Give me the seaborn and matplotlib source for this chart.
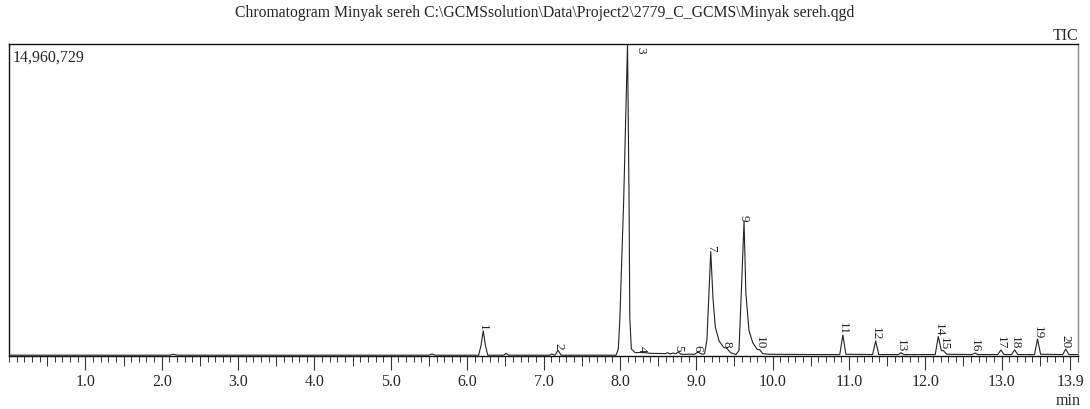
import numpy as np
import pandas as pd
import matplotlib as mpl
mpl.use('Agg')
import matplotlib.pyplot as plt
from matplotlib.ticker import MultipleLocator, FixedLocator, NullFormatter
import seaborn as sns

# DADOS DO CROMATOGRAMA
escala_total = 14960729  # intensidade do pico mais alto (TIC)

# tracado do sinal: tempo (min) e intensidade relativa (% da escala)
tempo = [0.00, 2.10, 2.15, 2.20, 5.50, 5.54, 5.58, 6.15, 6.18, 6.21, 6.24, 6.27,
         6.48, 6.51, 6.54, 7.08, 7.11, 7.14, 7.15, 7.19, 7.23,
         7.95, 7.98, 8.00, 8.05, 8.10, 8.12, 8.13, 8.15, 8.20, 8.29, 8.40,
         8.60, 8.62, 8.66, 8.70, 8.73, 8.76, 8.80, 8.98, 9.02, 9.08,
         9.11, 9.14, 9.17, 9.19, 9.22, 9.25, 9.30, 9.36, 9.40, 9.45, 9.52,
         9.56, 9.59, 9.626, 9.65, 9.69, 9.74, 9.80, 9.83, 9.87, 9.95,
         10.50, 10.88, 10.92, 10.96, 11.31, 11.35, 11.39, 11.65, 11.68, 11.72,
         12.13, 12.17, 12.21, 12.24, 12.28, 12.61, 12.65, 12.69,
         12.95, 12.99, 13.03, 13.13, 13.17, 13.21, 13.43, 13.47, 13.51,
         13.80, 13.84, 13.88, 14.00]
intensidade = [0.0, 0.0, 0.3, 0.0, 0.0, 0.4, 0.0, 0.0, 3.0, 7.8, 3.0, 0.0,
               0.0, 0.6, 0.0, 0.0, 0.4, 0.0, 0.0, 1.6, 0.0,
               0.0, 2.0, 12.0, 50.0, 100.0, 50.0, 12.0, 2.0, 0.8, 0.9, 0.6,
               0.5, 0.8, 0.4, 0.7, 0.4, 1.0, 0.3, 0.3, 1.0, 0.3,
               0.5, 5.0, 22.0, 33.3, 18.0, 9.0, 4.5, 2.5, 2.2, 0.8, 0.2,
               1.5, 20.0, 43.0, 20.0, 8.0, 4.0, 1.8, 1.8, 0.5, 0.3,
               0.2, 0.2, 6.5, 0.3, 0.2, 4.6, 0.2, 0.2, 0.8, 0.2,
               0.2, 6.0, 1.5, 1.4, 0.3, 0.2, 0.7, 0.2,
               0.2, 1.7, 0.2, 0.2, 1.7, 0.2, 0.2, 5.2, 0.3,
               0.2, 2.0, 0.2, 0.2]

# picos identificados
pico_num = list(range(1, 21))
pico_tempo = [6.21, 7.19, 8.10, 8.29, 8.76, 9.02, 9.19, 9.40, 9.626, 9.83,
              10.92, 11.35, 11.68, 12.17, 12.24, 12.65, 12.99, 13.17, 13.47, 13.84]
pico_altura = [7.8, 1.6, 100.0, 0.9, 1.0, 1.0, 33.3, 2.2, 43.0, 1.8,
               6.5, 4.6, 0.8, 6.0, 1.4, 0.7, 1.7, 1.7, 5.2, 2.0]

dados = pd.DataFrame({'tempo': tempo,
                      'sinal': np.array(intensidade) / 100 * escala_total})

# CONFIGURACAO
sns.set_style('white')
plt.rcParams['font.family'] = ['Liberation Serif', 'DejaVu Serif']

fig = plt.figure(figsize=(10.9, 4.1), dpi=100)
ax = fig.add_axes([0.0083, 0.129, 0.9807, 0.761])

sns.lineplot(data=dados, x='tempo', y='sinal', ax=ax, color='#222222',
             linewidth=0.8, estimator=None, sort=False)

ax.set_xlim(0.0, 14.0)
ax.set_ylim(-0.003 * escala_total, escala_total)
ax.set_xlabel('')
ax.set_ylabel('')
ax.set_yticks([])

# eixo x: maiores em 1.0, menores em 0.1
marcas = list(range(1, 14)) + [13.9]
ax.xaxis.set_major_locator(FixedLocator(marcas))
ax.set_xticklabels([f'{v:.1f}' for v in marcas], fontsize=11.5)
ax.xaxis.set_minor_locator(MultipleLocator(0.1))
ax.tick_params(axis='x', which='major', direction='out', length=10, width=0.8,
               color='#333333', pad=2, bottom=True)
ax.tick_params(axis='x', which='minor', direction='out', length=4.5, width=0.7,
               color='#333333', bottom=True)

# marcas intermediarias em 0.5
sec = ax.secondary_xaxis('bottom')
sec.xaxis.set_major_locator(FixedLocator([v + 0.5 for v in range(0, 14)]))
sec.xaxis.set_major_formatter(NullFormatter())
sec.tick_params(axis='x', direction='out', length=7, width=0.7, color='#333333')
sec.spines['bottom'].set_visible(False)

for lado in ['left', 'top', 'bottom']:
    ax.spines[lado].set_color('#111111')
    ax.spines[lado].set_linewidth(1.0)
ax.spines['right'].set_color('#888888')
ax.spines['right'].set_linewidth(1.0)

# numeros dos picos
for n, t, h in zip(pico_num, pico_tempo, pico_altura):
    if n == 3:
        ax.text(t + 0.17, escala_total * 0.995, str(n), rotation=-90, fontsize=9.5,
                ha='center', va='top', color='#222222')
    else:
        ax.text(t, h / 100 * escala_total + 0.004 * escala_total, str(n), rotation=-90,
                fontsize=9.5, ha='center', va='bottom', color='#222222')

ax.text(0.003, 0.985, '14,960,729', transform=ax.transAxes, fontsize=11.5,
        ha='left', va='top')
ax.text(1.0, 1.004, 'TIC', transform=ax.transAxes, fontsize=11.5,
        ha='right', va='bottom')
fig.text(0.98, 0.022, 'min', fontsize=11.5, ha='center', va='center')
fig.text(0.5, 0.968,
         'Chromatogram Minyak sereh C:\\GCMSsolution\\Data\\Project2\\2779_C_GCMS\\Minyak sereh.qgd',
         fontsize=11.3, ha='center', va='center')

plt.savefig('out.png', dpi=100)
